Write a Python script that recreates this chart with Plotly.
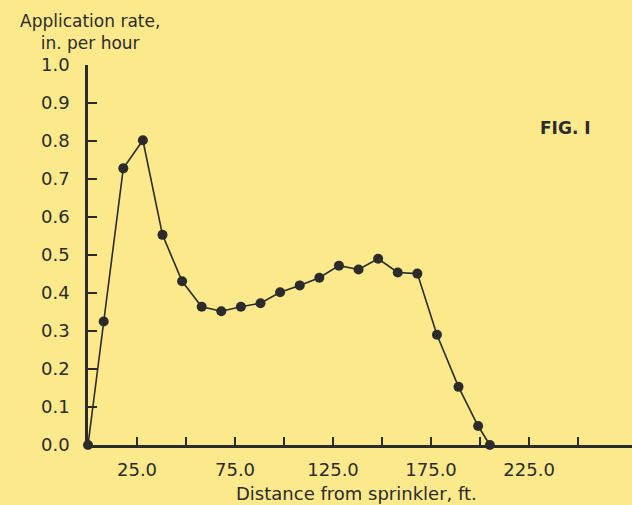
import plotly.graph_objects as go

distance_ft = [0, 8, 18, 28, 38, 48, 58, 68, 78, 88, 98, 108, 118, 128, 138, 148, 158, 168, 178, 189, 199, 205]
rate_in_per_hr = [0.0, 0.325, 0.728, 0.802, 0.553, 0.431, 0.364, 0.352, 0.364, 0.373, 0.402, 0.420, 0.440,
                  0.472, 0.462, 0.490, 0.454, 0.451, 0.290, 0.153, 0.050, 0.0]

x_tickvals = [25, 50, 75, 100, 125, 150, 175, 200, 225, 250]
x_ticktext = ["25.0", "", "75.0", "", "125.0", "", "175.0", "", "225.0", ""]
y_tickvals = [0.0, 0.1, 0.2, 0.3, 0.4, 0.5, 0.6, 0.7, 0.8, 0.9, 1.0]
y_ticktext = ["0.0", "0.1", "0.2", "0.3", "0.4", "0.5", "0.6", "0.7", "0.8", "0.9", "1.0"]

ink = "#2b2b2b"
paper = "#FBE98C"
font_family = "DejaVu Sans"

fig = go.Figure()
fig.add_trace(go.Scatter(
    x=distance_ft, y=rate_in_per_hr, mode="lines+markers",
    line=dict(color=ink, width=1.6),
    marker=dict(color=ink, size=10),
    cliponaxis=False, showlegend=False,
))

fig.update_layout(
    width=632, height=505,
    margin=dict(l=88, r=0, t=65, b=60),
    paper_bgcolor=paper, plot_bgcolor=paper,
    font=dict(family=font_family, color=ink, size=16),
    xaxis=dict(
        range=[0, 277.5], showgrid=False, zeroline=False,
        showline=True, linecolor=ink, linewidth=2.5,
        tickmode="array", tickvals=x_tickvals, ticktext=x_ticktext,
        ticks="inside", ticklen=8, tickwidth=2, tickcolor=ink,
        tickfont=dict(size=18, color=ink), ticklabelstandoff=7,
    ),
    yaxis=dict(
        range=[0, 1.0], showgrid=False, zeroline=False,
        showline=True, linecolor=ink, linewidth=2.5,
        tickmode="array", tickvals=y_tickvals, ticktext=y_ticktext,
        ticks="inside", ticklen=9, tickwidth=2, tickcolor=ink,
        tickfont=dict(size=18, color=ink), ticklabelstandoff=12,
    ),
    annotations=[
        dict(text="Application rate,<br>in. per hour", xref="paper", yref="paper",
             x=0.0, y=1.0, xanchor="center", yanchor="bottom", showarrow=False,
             xshift=2, yshift=10, align="center", font=dict(size=17, color=ink)),
        dict(text="FIG. I", xref="paper", yref="paper", x=0.878, y=0.835,
             xanchor="center", yanchor="middle", showarrow=False,
             font=dict(size=17, color=ink, weight="bold")),
        dict(text="Distance from sprinkler, ft.", xref="paper", yref="paper",
             x=0.493, y=0, xanchor="center", yanchor="top", showarrow=False,
             yshift=-36, font=dict(size=18, color=ink)),
    ],
)

fig.write_html("out.html", config={"displayModeBar": False},
               post_script="document.body.style.margin='0';document.body.style.background='%s';" % paper)
